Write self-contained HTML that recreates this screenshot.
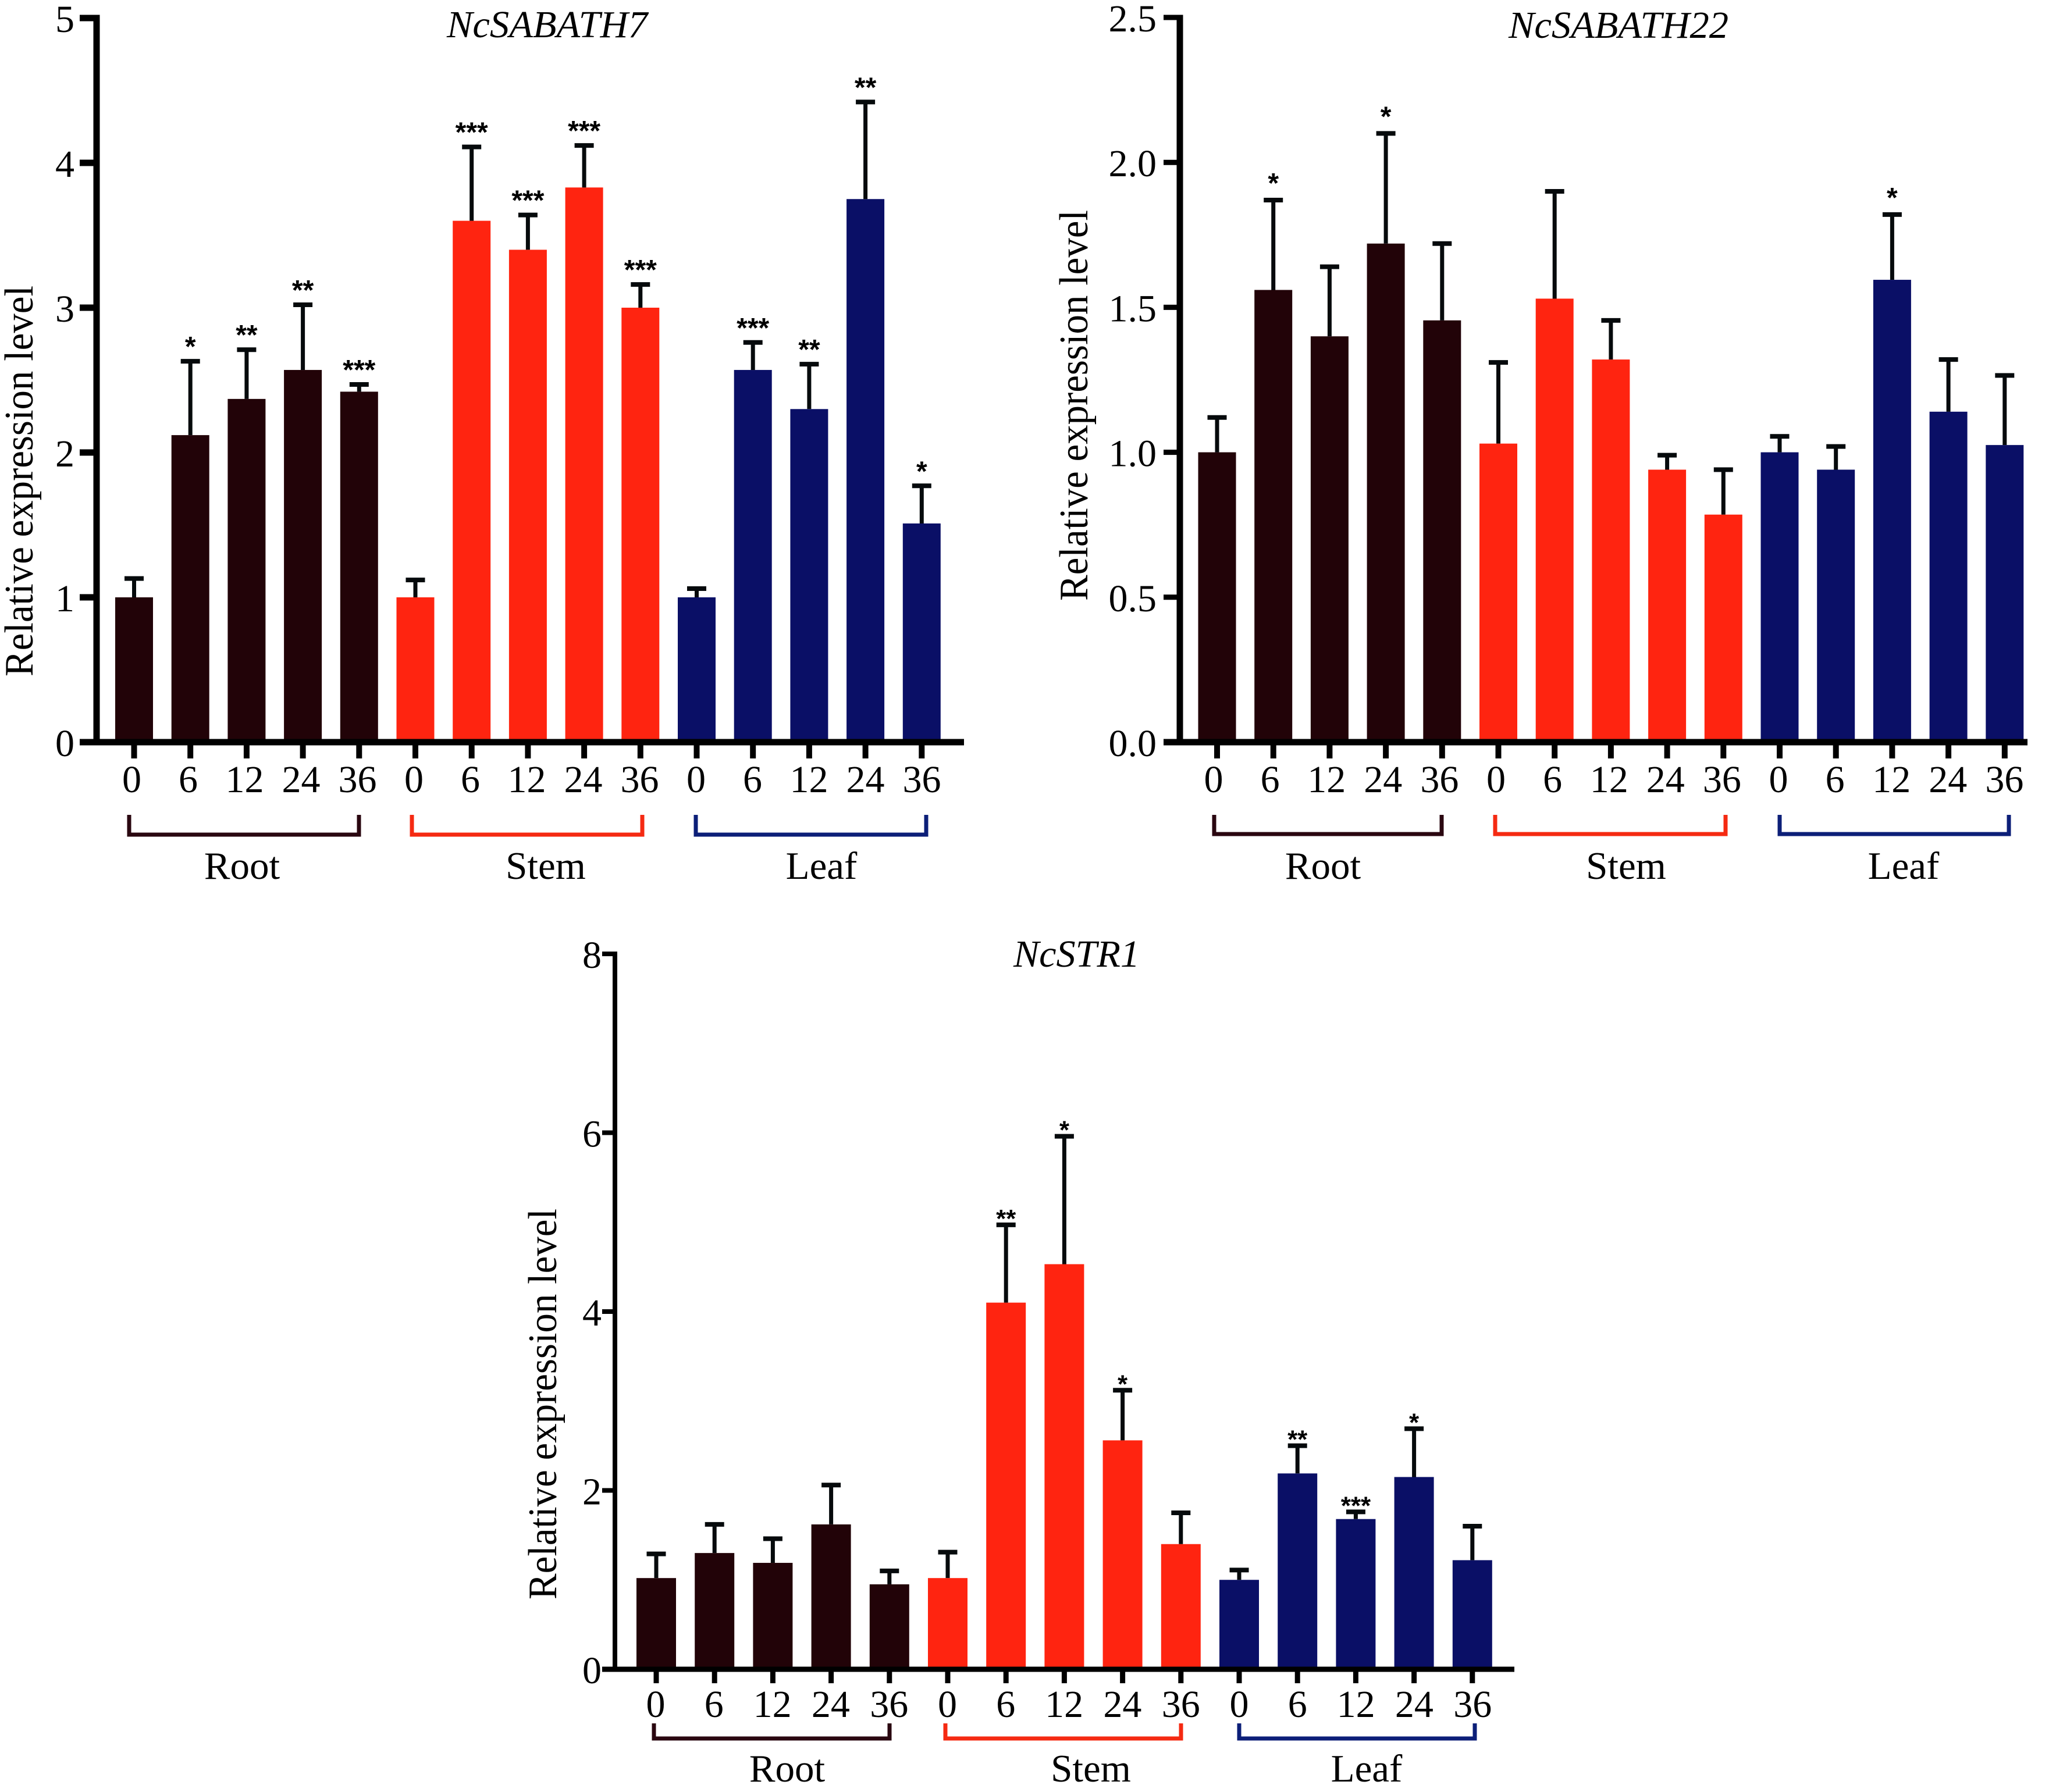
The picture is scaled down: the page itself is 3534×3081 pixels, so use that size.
<!DOCTYPE html>
<html lang="en">
<head>
<meta charset="utf-8">
<title>Relative expression of NcSABATH7, NcSABATH22 and NcSTR1</title>
<style>
html,body{margin:0;padding:0;background:#fff;}
svg{display:block;}
text{font-family:"Liberation Serif",serif;fill:#000;}
.star{font-family:"Liberation Sans",sans-serif;font-weight:700;}
</style>
</head>
<body>
<svg id="chart" xmlns="http://www.w3.org/2000/svg" width="3534" height="3081" viewBox="0 0 3534 3081"></svg>
<script>
const categories = ['0','6','12','24','36','0','6','12','24','36','0','6','12','24','36'];
const tissues = ['Root','Stem','Leaf'];

const sabath7Ticks = [0,1,2,3,4,5];
const sabath7TickLabels = ['0','1','2','3','4','5'];
const sabath7Values = [1.0,2.12,2.37,2.57,2.42, 1.0,3.6,3.4,3.83,3.0, 1.0,2.57,2.3,3.75,1.51];
const sabath7Errors = [0.13,0.51,0.34,0.45,0.05, 0.12,0.51,0.24,0.29,0.16, 0.06,0.19,0.31,0.67,0.26];
const sabath7Stars = ['','*','**','**','***', '','***','***','***','***', '','***','**','**','*'];

const sabath22Ticks = [0,0.5,1,1.5,2,2.5];
const sabath22TickLabels = ['0.0','0.5','1.0','1.5','2.0','2.5'];
const sabath22Values = [1.0,1.56,1.40,1.72,1.455, 1.03,1.53,1.32,0.94,0.785, 1.0,0.94,1.595,1.14,1.025];
const sabath22Errors = [0.12,0.31,0.24,0.38,0.265, 0.28,0.37,0.135,0.05,0.155, 0.055,0.08,0.225,0.18,0.24];
const sabath22Stars = ['','*','','*','', '','','','','', '','','*','',''];

const str1Ticks = [0,2,4,6,8];
const str1TickLabels = ['0','2','4','6','8'];
const str1Values = [1.02,1.30,1.19,1.62,0.95, 1.02,4.10,4.53,2.56,1.40, 1.0,2.19,1.68,2.15,1.22];
const str1Errors = [0.27,0.32,0.27,0.44,0.15, 0.29,0.87,1.43,0.56,0.35, 0.11,0.31,0.08,0.54,0.38];
const str1Stars = ['','','','','', '','**','*','*','', '','**','***','*',''];

const NS = 'http://www.w3.org/2000/svg';
const svg = document.getElementById('chart');
const groupColors = ['#220308','#ff2410','#0a0f66'];
const bracketColors = ['#2a0710','#f52a12','#0c1f78'];
const inkColor = '#060a0c';

function make(parent, tag, attrs, txt) {
  const el = document.createElementNS(NS, tag);
  for (const k in attrs) el.setAttribute(k, attrs[k]);
  if (txt !== undefined) el.textContent = txt;
  parent.appendChild(el);
  return el;
}

function drawPanel(p) {
  const g = make(svg, 'g', {});
  
  

  const maxTick = p.ticks[p.ticks.length - 1];
  const yScale = v => p.y0 - (v / maxTick) * (p.y0 - p.yTop);
  const xScale = i => p.x0 + i * p.pitch;
  const labelScale = i => p.x0 + p.xLabelDx + i * p.labelPitch;

  // bars
  p.values.forEach((v, i) => {
    const bar = make(g, 'rect', {x: xScale(i) - p.barW / 2, y: yScale(v), width: p.barW, height: p.y0 - yScale(v), fill: groupColors[Math.floor(i / 5)]});
    
    
  });

  // error bars
  p.values.forEach((v, i) => {
    const top = yScale(v + p.errors[i]);
    const stem = make(g, 'line', {x1: xScale(i), x2: xScale(i), y1: yScale(v), y2: top, stroke: inkColor, 'stroke-width': p.errW});
    
    
    const cap = make(g, 'line', {x1: xScale(i) - p.capW / 2, x2: xScale(i) + p.capW / 2, y1: top, y2: top, stroke: inkColor, 'stroke-width': p.errW + 1});
    
    
    if (p.stars[i]) {
      const s = make(g, 'text', {class: 'star', x: xScale(i), y: top + p.starDy, 'text-anchor': 'middle', 'font-size': p.starSize}, p.stars[i]);
      
      
    }
  });

  // y axis
  const yAxis = make(g, 'line', {x1: p.axisX, x2: p.axisX, y1: p.yTop - p.tickT / 2, y2: p.y0, stroke: '#000', 'stroke-width': p.axisW});
  
  
  p.ticks.forEach((t, i) => {
    const tk = make(g, 'line', {x1: p.tickLeft, x2: p.axisX, y1: yScale(t), y2: yScale(t), stroke: '#000', 'stroke-width': p.tickT});
    
    
    const lb = make(g, 'text', {x: p.yLabelRight, y: yScale(t) + 24, 'text-anchor': 'end', 'font-size': 66}, p.tickLabels[i]);
    
    
  });

  // x axis
  const xAxis = make(g, 'line', {x1: p.tickLeft, x2: p.axisRight, y1: p.y0, y2: p.y0, stroke: '#000', 'stroke-width': p.baseW});
  
  
  categories.forEach((c, i) => {
    const tk = make(g, 'line', {x1: xScale(i), x2: xScale(i), y1: p.y0, y2: p.xTickEnd, stroke: '#000', 'stroke-width': p.xTickW});
    
    
    const lb = make(g, 'text', {x: labelScale(i), y: p.xLabelY, 'text-anchor': 'middle', 'font-size': 66}, c);
    
    
  });

  // tissue brackets and names
  tissues.forEach((name, i) => {
    const b = p.brackets[i];
    const br = make(g, 'path', {d: 'M' + b[0] + ' ' + p.brTop + 'V' + p.brBottom + 'H' + b[1] + 'V' + p.brTop, fill: 'none', stroke: bracketColors[i], 'stroke-width': 7});
    
    
    const lb = make(g, 'text', {x: p.groupX[i], y: p.groupY, 'text-anchor': 'middle', 'font-size': 67}, name);
    
    
  });

  // y-axis title
  const yt = make(g, 'text', {transform: 'translate(' + p.yTitleX + ' ' + p.yTitleBottom + ') rotate(-90)', 'font-size': 70, textLength: p.yTitleLen, lengthAdjust: 'spacingAndGlyphs'}, 'Relative expression level');
  
  

  // gene title
  const tt = make(g, 'text', {x: p.titleX, y: p.titleY, 'font-size': 66, 'font-style': 'italic', textLength: p.titleLen, lengthAdjust: 'spacingAndGlyphs'}, p.title);
  
  
}

drawPanel({
  id: 'ncsabath7', title: 'NcSABATH7', ticks: sabath7Ticks, tickLabels: sabath7TickLabels,
  values: sabath7Values, errors: sabath7Errors, stars: sabath7Stars,
  x0: 230.5, pitch: 96.7, barW: 65, y0: 1276, yTop: 31,
  axisX: 166, axisW: 11, tickLeft: 137, tickT: 11, axisRight: 1657, baseW: 11,
  xTickEnd: 1304, xTickW: 10, xLabelDx: -4, labelPitch: 97, xLabelY: 1362, yLabelRight: 128,
  errW: 7, capW: 33, starSize: 48, starDy: -9,
  brTop: 1401, brBottom: 1435, brackets: [[222,617],[708,1104],[1196,1592]],
  groupX: [416,938,1412], groupY: 1511,
  yTitleX: 56, yTitleBottom: 1163, yTitleLen: 672,
  titleX: 768, titleY: 64, titleLen: 345
});

drawPanel({
  id: 'ncsabath22', title: 'NcSABATH22', ticks: sabath22Ticks, tickLabels: sabath22TickLabels,
  values: sabath22Values, errors: sabath22Errors, stars: sabath22Stars,
  x0: 2092, pitch: 96.7, barW: 65, y0: 1276, yTop: 30,
  axisX: 2028, axisW: 11, tickLeft: 2000, tickT: 9, axisRight: 3485, baseW: 11,
  xTickEnd: 1304, xTickW: 10, xLabelDx: -6, labelPitch: 97.1, xLabelY: 1362, yLabelRight: 1988,
  errW: 7, capW: 33, starSize: 48, starDy: -13,
  brTop: 1401, brBottom: 1434, brackets: [[2087,2478],[2570,2966],[3059,3453]],
  groupX: [2274,2795,3272], groupY: 1511,
  yTitleX: 1869, yTitleBottom: 1033, yTitleLen: 672,
  titleX: 2593, titleY: 65, titleLen: 378
});

drawPanel({
  id: 'ncstr1', title: 'NcSTR1', ticks: str1Ticks, tickLabels: str1TickLabels,
  values: str1Values, errors: str1Errors, stars: str1Stars,
  x0: 1128, pitch: 100.2, barW: 68, y0: 2870, yTop: 1640,
  axisX: 1057, axisW: 8, tickLeft: 1035, tickT: 8, axisRight: 2603, baseW: 9,
  xTickEnd: 2894, xTickW: 9, xLabelDx: -1, labelPitch: 100.3, xLabelY: 2952, yLabelRight: 1034,
  errW: 7, capW: 33, starSize: 44, starDy: 4,
  brTop: 2963, brBottom: 2989, brackets: [[1124,1529],[1625,2030],[2130,2535]],
  groupX: [1353,1875,2349], groupY: 3063,
  yTitleX: 956, yTitleBottom: 2750, yTitleLen: 672,
  titleX: 1742, titleY: 1662, titleLen: 217
});
</script>
</body>
</html>
